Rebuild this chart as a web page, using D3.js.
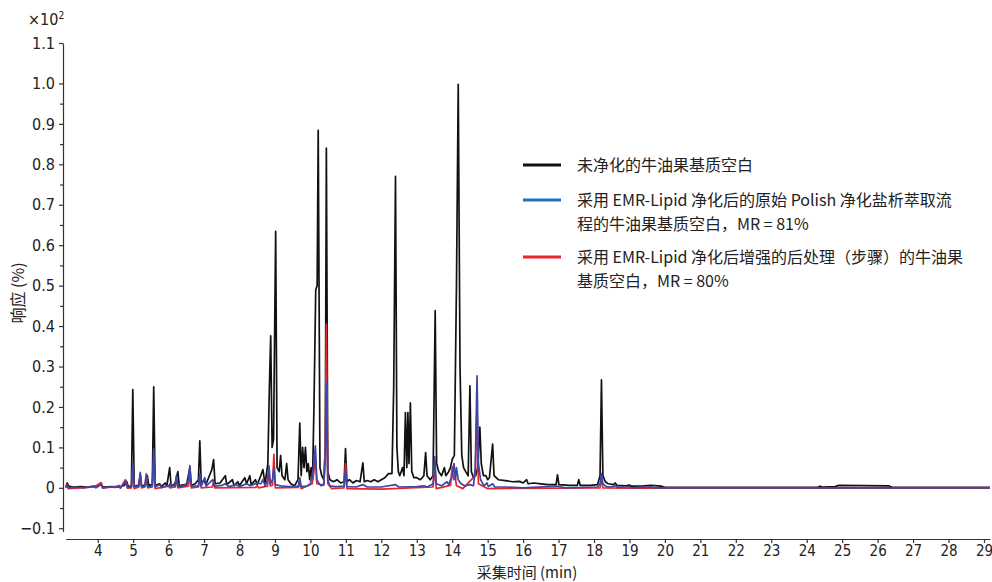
<!DOCTYPE html>
<html>
<head>
<meta charset="utf-8">
<script src="https://cdn.jsdelivr.net/npm/d3@7"></script>
<style>
  body { margin: 0; background: #fff; }
  svg text { font-family: "Liberation Sans Narrow", "DejaVu Sans Condensed", "Noto Sans CJK SC", sans-serif; fill: #222; }
  .cjk { font-family: "Liberation Sans Narrow", "Noto Sans CJK SC", sans-serif; }
</style>
</head>
<body>
<div id="chart"></div>
<script>
const width = 992;
const height = 582;

// Retention time (min), response (x10^2 %)
const untreated = [
  [3.10,0.003],[3.14,0.012],[3.18,0.004],[3.30,0.002],[3.50,0.003],[3.70,0.002],[3.95,0.004],[4.10,0.008],[4.15,0.002],
  [4.40,0.003],[4.60,0.002],[4.75,0.006],[4.82,0.015],[4.86,0.003],[4.95,0.004],[4.99,0.243],[5.03,0.004],[5.15,0.006],
  [5.20,0.030],[5.24,0.004],[5.36,0.008],[5.40,0.030],[5.44,0.006],[5.54,0.008],[5.58,0.250],[5.62,0.006],[5.75,0.010],
  [5.80,0.003],[5.90,0.012],[5.95,0.005],[6.03,0.050],[6.07,0.004],[6.18,0.010],[6.26,0.040],[6.30,0.005],[6.45,0.008],
  [6.50,0.004],[6.60,0.050],[6.64,0.006],[6.75,0.010],[6.84,0.020],[6.88,0.116],[6.92,0.010],[7.00,0.020],[7.05,0.008],
  [7.15,0.030],[7.22,0.045],[7.27,0.070],[7.31,0.010],[7.45,0.012],[7.60,0.030],[7.64,0.008],[7.80,0.020],[7.85,0.005],
  [7.95,0.015],[8.00,0.006],[8.15,0.025],[8.20,0.010],[8.29,0.030],[8.33,0.008],[8.45,0.020],[8.50,0.008],[8.60,0.030],
  [8.66,0.045],[8.72,0.010],[8.80,0.060],[8.84,0.240],[8.88,0.376],[8.92,0.100],[8.96,0.120],[9.02,0.634],[9.06,0.050],
  [9.12,0.040],[9.16,0.080],[9.20,0.030],[9.28,0.020],[9.33,0.060],[9.37,0.020],[9.45,0.010],[9.55,0.005],[9.65,0.020],
  [9.70,0.160],[9.74,0.030],[9.78,0.100],[9.82,0.050],[9.86,0.100],[9.90,0.040],[9.94,0.060],[9.98,0.020],[10.02,0.050],
  [10.06,0.020],[10.10,0.200],[10.15,0.490],[10.19,0.500],[10.22,0.884],[10.27,0.050],[10.32,0.030],[10.38,0.020],
  [10.42,0.100],[10.45,0.840],[10.49,0.040],[10.55,0.020],[10.65,0.015],[10.75,0.020],[10.85,0.012],[10.95,0.015],
  [10.99,0.097],[11.03,0.015],[11.10,0.020],[11.20,0.012],[11.30,0.018],[11.40,0.015],[11.48,0.062],[11.52,0.015],
  [11.60,0.018],[11.70,0.015],[11.80,0.020],[11.90,0.015],[12.00,0.020],[12.10,0.025],[12.20,0.035],[12.30,0.035],
  [12.35,0.250],[12.40,0.770],[12.44,0.100],[12.48,0.040],[12.52,0.030],[12.60,0.050],[12.64,0.030],[12.68,0.186],
  [12.72,0.050],[12.75,0.186],[12.78,0.060],[12.82,0.210],[12.86,0.040],[12.92,0.025],[13.00,0.025],[13.10,0.020],
  [13.20,0.030],[13.25,0.087],[13.29,0.030],[13.38,0.020],[13.46,0.030],[13.52,0.438],[13.56,0.060],[13.62,0.040],
  [13.70,0.030],[13.78,0.050],[13.82,0.030],[13.90,0.040],[13.95,0.050],[14.00,0.070],[14.06,0.080],[14.12,0.500],
  [14.17,0.998],[14.22,0.300],[14.27,0.080],[14.32,0.050],[14.38,0.040],[14.45,0.030],[14.50,0.252],[14.54,0.040],
  [14.60,0.025],[14.66,0.030],[14.72,0.050],[14.78,0.150],[14.82,0.060],[14.88,0.030],[14.95,0.030],[15.00,0.020],
  [15.05,0.025],[15.14,0.108],[15.18,0.030],[15.30,0.020],[15.50,0.018],[15.70,0.015],[15.90,0.016],[16.00,0.012],
  [16.10,0.020],[16.14,0.010],[16.30,0.012],[16.50,0.010],[16.70,0.008],[16.93,0.008],[16.97,0.032],[17.01,0.008],
  [17.30,0.006],[17.53,0.006],[17.57,0.020],[17.61,0.006],[17.90,0.006],[18.10,0.008],[18.17,0.030],[18.21,0.267],
  [18.25,0.030],[18.32,0.015],[18.40,0.010],[18.55,0.008],[18.60,0.012],[18.65,0.006],[18.90,0.005],[19.00,0.007],
  [19.05,0.004],[19.40,0.005],[19.60,0.006],[19.90,0.004],[20.00,0.001],[24.30,0.001],[24.37,0.004],[24.45,0.002],
  [24.80,0.003],[24.90,0.006],[26.30,0.005],[26.40,0.002],[26.50,0.001],[29.17,0.001]
];

const polish = [
  [3.10,0.001],[3.14,0.006],[3.18,0.000],[3.40,0.002],[3.60,0.000],[3.90,0.004],[3.95,0.000],[4.10,0.008],[4.14,0.000],
  [4.30,0.002],[4.50,0.001],[4.60,0.006],[4.64,0.000],[4.80,0.017],[4.84,0.001],[4.95,0.002],[4.99,0.063],[5.03,0.002],
  [5.16,0.005],[5.20,0.038],[5.24,0.002],[5.33,0.004],[5.37,0.030],[5.41,0.002],[5.54,0.004],[5.58,0.096],[5.62,0.002],
  [5.75,0.008],[5.80,0.000],[5.95,0.005],[6.00,0.004],[6.04,0.010],[6.18,0.003],[6.22,0.030],[6.26,0.002],[6.40,0.004],
  [6.50,0.010],[6.56,0.020],[6.60,0.055],[6.64,0.004],[6.84,0.005],[6.88,0.035],[6.92,0.004],[7.02,0.025],[7.06,0.004],
  [7.18,0.015],[7.25,0.020],[7.30,0.004],[7.50,0.006],[7.60,0.010],[7.70,0.003],[7.90,0.008],[8.00,0.003],[8.20,0.010],
  [8.30,0.005],[8.50,0.012],[8.60,0.010],[8.66,0.020],[8.72,0.005],[8.79,0.020],[8.83,0.055],[8.87,0.010],[8.93,0.020],
  [8.97,0.050],[9.01,0.008],[9.10,0.006],[9.20,0.004],[9.40,0.003],[9.66,0.004],[9.70,0.025],[9.74,0.003],[9.90,0.004],
  [10.00,0.010],[10.05,0.030],[10.10,0.060],[10.14,0.104],[10.18,0.020],[10.25,0.010],[10.30,0.005],[10.38,0.010],
  [10.42,0.080],[10.45,0.260],[10.49,0.020],[10.55,0.005],[10.70,0.003],[10.95,0.004],[10.99,0.045],[11.03,0.003],
  [11.30,0.002],[11.48,0.008],[11.60,0.002],[12.00,0.002],[12.40,0.008],[12.50,0.002],[13.00,0.003],[13.20,0.005],
  [13.30,0.002],[13.46,0.010],[13.51,0.077],[13.55,0.010],[13.70,0.005],[13.85,0.015],[13.90,0.008],[14.00,0.030],
  [14.05,0.060],[14.09,0.020],[14.12,0.050],[14.17,0.020],[14.25,0.010],[14.35,0.005],[14.50,0.008],[14.60,0.005],
  [14.65,0.050],[14.70,0.277],[14.74,0.060],[14.80,0.020],[14.90,0.005],[14.98,0.012],[15.02,0.003],[15.14,0.010],
  [15.20,0.002],[15.50,0.002],[16.00,0.000],[16.97,0.004],[17.20,0.000],[18.10,0.002],[18.17,0.010],[18.21,0.035],
  [18.25,0.010],[18.35,0.003],[18.50,0.002],[18.60,0.006],[18.65,0.001],[19.00,0.003],[19.05,0.000],[19.60,0.002],
  [19.70,0.000],[29.17,0.000]
];

const enhanced = [
  [3.10,0.000],[3.13,0.008],[3.17,-0.002],[3.50,0.000],[3.90,0.002],[4.10,0.013],[4.14,-0.001],[4.60,0.004],[4.64,-0.001],
  [4.78,0.020],[4.84,-0.001],[4.95,0.000],[4.99,0.040],[5.03,-0.002],[5.16,0.002],[5.20,0.035],[5.24,0.000],[5.33,0.002],
  [5.37,0.035],[5.41,0.000],[5.54,0.002],[5.58,0.070],[5.62,-0.002],[6.00,0.004],[6.04,0.000],[6.18,0.002],[6.22,0.020],
  [6.26,0.000],[6.56,0.004],[6.60,0.030],[6.64,0.000],[6.84,0.002],[6.88,0.025],[6.92,0.000],[7.23,0.002],[7.27,0.015],
  [7.30,0.000],[8.46,0.001],[8.50,0.005],[8.54,0.000],[8.79,0.004],[8.83,0.040],[8.87,0.005],[8.93,0.006],[8.97,0.083],
  [9.01,0.000],[9.66,0.001],[9.70,0.015],[9.74,-0.002],[10.05,0.010],[10.10,0.040],[10.14,0.080],[10.18,0.010],[10.38,0.006],
  [10.42,0.100],[10.45,0.405],[10.49,0.010],[10.60,-0.002],[10.95,0.000],[10.99,0.060],[11.03,-0.002],[12.00,-0.003],
  [13.46,0.002],[13.51,0.050],[13.55,-0.002],[13.95,0.006],[14.00,0.052],[14.04,0.020],[14.08,0.030],[14.12,0.005],
  [14.30,-0.002],[14.65,0.030],[14.70,0.200],[14.74,0.010],[15.00,-0.002],[18.17,0.000],[18.21,0.025],[18.25,0.000],
  [19.00,-0.001],[29.17,-0.001]
];

const legendLabels = [
  ["未净化的牛油果基质空白"],
  ["采用 EMR-Lipid 净化后的原始 Polish 净化盐析萃取流", "程的牛油果基质空白，MR = 81%"],
  ["采用 EMR-Lipid 净化后增强的后处理（步骤）的牛油果", "基质空白，MR = 80%"]
];
const lineColours = ["#111111", "#3a48a8", "#e8262b"];
const legendColours = ["#111111", "#1f72bf", "#e8262b"];
const xTicks = d3.range(4, 30);
const yTicks = d3.range(-1, 12).map(i => i / 10);
const yMinorTicks = d3.range(-1, 22).map(i => i / 20 - 0.05).filter(d => Math.round(d * 20) % 2 !== 0);

const x = d3.scaleLinear().domain([3.1, 29.17]).range([65.8, 990]);
const y = d3.scaleLinear().domain([-0.108, 1.1]).range([531.5, 43]);

const svg = d3.select("#chart").append("svg")
    .attr("width", width)
    .attr("height", height);

// --- Axes ---
const yAxis = svg.append("g")
    .attr("transform", "translate(63,0)")
    .call(d3.axisLeft(y)
        .tickValues(yTicks)
        .tickSize(4)
        .tickSizeOuter(0)
        .tickPadding(4)
        .tickFormat(d => Math.abs(d) < 1e-9 ? "0" : d3.format(".1f")(d)));
yAxis.selectAll("text").attr("font-size", 16).attr("font-family", null);

svg.append("g")
    .attr("transform", "translate(63,0)")
    .call(d3.axisLeft(y).tickValues(yMinorTicks).tickSize(3).tickFormat(""))
    .call(g => g.select(".domain").remove());

const xAxis = svg.append("g")
    .attr("transform", "translate(0,539)")
    .call(d3.axisBottom(x)
        .tickValues(xTicks)
        .tickSize(4)
        .tickSizeOuter(0)
        .tickPadding(2)
        .tickFormat(d3.format("d")));
xAxis.selectAll("text").attr("font-size", 15).attr("font-family", null);

svg.selectAll(".domain, .tick line").attr("stroke", "#333").attr("stroke-width", 1.2);

// --- Traces ---
const line = d3.line()
    .x(d => x(d[0]))
    .y(d => y(d[1]));

const traces = [untreated, enhanced, polish];
const traceColours = [lineColours[0], lineColours[2], lineColours[1]];
svg.append("g")
    .selectAll("path")
    .data(traces)
    .join("path")
    .attr("d", line)
    .attr("fill", "none")
    .attr("stroke", (d, i) => traceColours[i])
    .attr("stroke-width", 1.7)
    .attr("stroke-linejoin", "round");

// --- Labels ---
svg.append("text")
    .attr("x", 28)
    .attr("y", 25)
    .attr("font-size", 16)
    .html("×10<tspan dy='-6' font-size='10'>2</tspan>");

svg.append("text")
    .attr("class", "cjk")
    .attr("transform", "translate(24,293) rotate(-90)")
    .attr("text-anchor", "middle")
    .attr("font-size", 16)
    .text("响应 (%)");

svg.append("text")
    .attr("class", "cjk")
    .attr("x", 527)
    .attr("y", 578)
    .attr("text-anchor", "middle")
    .attr("font-size", 15)
    .text("采集时间 (min)");

// --- Legend ---
const legendY = [165, 200, 257];
const legend = svg.append("g")
    .selectAll("g")
    .data(legendLabels)
    .join("g")
    .attr("transform", (d, i) => `translate(523,${legendY[i]})`);

legend.append("line")
    .attr("x1", 0)
    .attr("x2", 38)
    .attr("stroke", (d, i) => legendColours[i])
    .attr("stroke-width", 3);

legend.selectAll("text")
    .data(d => d)
    .join("text")
    .attr("class", "cjk")
    .attr("x", 54)
    .attr("y", (d, i) => 6 + i * 24)
    .attr("font-size", 16)
    .text(d => d);
</script>
</body>
</html>
